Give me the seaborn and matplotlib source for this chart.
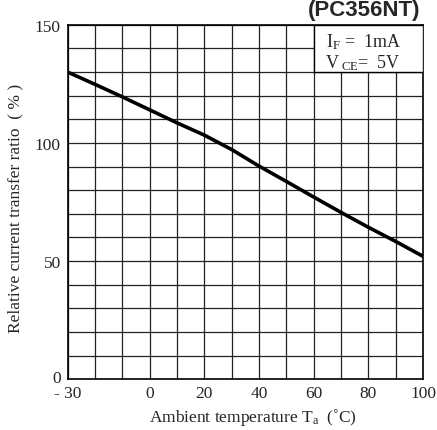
import seaborn as sns
import matplotlib.pyplot as plt
import pandas as pd
from matplotlib.patches import Rectangle
import matplotlib.transforms as mtransforms

# values
temp = [-30, -20, -10, 0, 10, 20, 30, 40, 50, 60, 70, 80, 90, 100]
ratio = [130, 124.8, 119.5, 114, 108.5, 103.3, 97.2, 90.2, 83.7, 77.1, 70.6, 64.3, 58.3, 52]
xticks = [-30, 0, 20, 40, 60, 80, 100]
xticklabels = ['- 30', '0', '20', '40', '60', '80', '100']
yticks = [0, 50, 100, 150]

sns.set_style("white")
plt.rcParams['font.family'] = ['Liberation Serif', 'DejaVu Serif']
plt.rcParams['mathtext.fontset'] = 'custom'
plt.rcParams['mathtext.rm'] = 'Liberation Serif'
plt.rcParams['mathtext.it'] = 'Liberation Serif:italic'

df = pd.DataFrame({'temp': temp, 'ratio': ratio})

fig = plt.figure(figsize=(4.37, 4.31), dpi=100)
ax = fig.add_axes([0.155, 0.118, 0.813, 0.822])

sns.lineplot(data=df, x='temp', y='ratio', color='black', linewidth=2.6, ax=ax, zorder=5)

ax.set_xlim(-30, 100)
ax.set_ylim(0, 150)
ax.set_xticks(xticks)
ax.set_xticklabels(xticklabels)
ax.set_xticks(range(-30, 101, 10), minor=True)
ax.set_yticks(yticks)
ax.set_yticks(range(0, 151, 10), minor=True)
ax.grid(which='both', color='#222222', linewidth=0.9)
ax.set_axisbelow(True)
ax.tick_params(which='both', length=0, labelsize=12.5)
ax.tick_params(axis='x', pad=4)
ax.tick_params(axis='y', pad=5)
for s in ax.spines.values():
    s.set_color('black')
    s.set_linewidth(1.2)

# lift the y "0" a little so it clears "- 30"
lbl0 = ax.get_yticklabels()[0]
lbl0.set_transform(lbl0.get_transform() + mtransforms.ScaledTranslation(0, 2 / 72, fig.dpi_scale_trans))

# condition box in the top right corner
ax.add_patch(Rectangle((60, 130), 40, 20, facecolor='white', edgecolor='black',
                       linewidth=1.0, zorder=3))
ax.text(92, 143.2, r'I$_\mathrm{F}$ =  1mA', ha='right', va='center', fontsize=13, zorder=4)
ax.text(92, 134.3, r'V$_\mathrm{\ CE}$=  5V', ha='right', va='center', fontsize=13, zorder=4)

ax.set_xlabel(r'Ambient temperature T$_\mathrm{a}$  (˚C)', fontsize=12.5)
ax.set_ylabel('Relative current transfer ratio  ( % )', fontsize=12.5)
ax.xaxis.set_label_coords(0.52, -0.075)
ax.yaxis.set_label_coords(-0.125, 0.486)

fig.text(0.961, 0.999, '(PC356NT)', ha='right', va='top', fontsize=16,
         fontweight='bold', family='Liberation Sans')

fig.savefig('out.png', dpi=100)
